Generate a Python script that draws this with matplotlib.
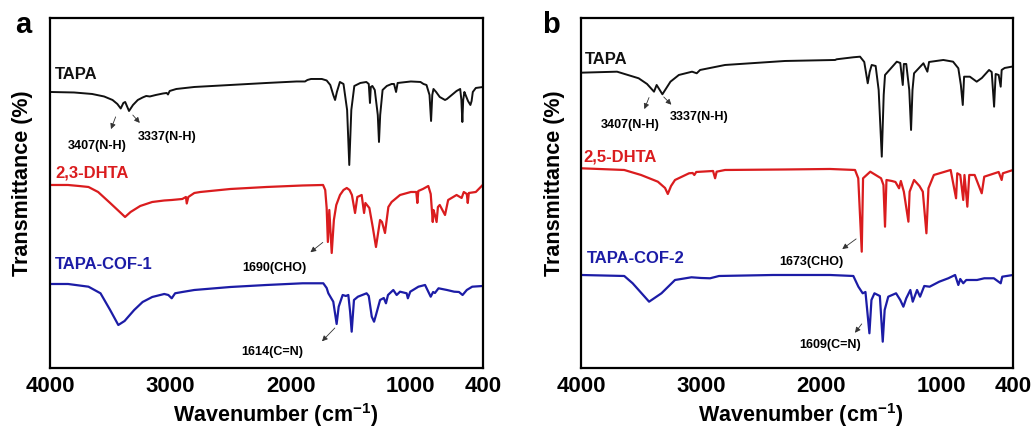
import matplotlib
matplotlib.use("Agg")
import matplotlib.pyplot as plt

plt.rcParams['font.family'] = ['Liberation Sans', 'DejaVu Sans']
plt.rcParams['font.weight'] = 'bold'
plt.rcParams['mathtext.fontset'] = 'custom'
plt.rcParams['mathtext.rm'] = 'Liberation Sans:bold'
plt.rcParams['mathtext.default'] = 'rm'

# ---- panel a: spectra (wavenumber, transmittance a.u.) ----
tapa_a_w = [4000, 3800, 3650, 3550, 3480, 3440, 3412, 3390, 3375, 3343, 3310, 3270, 3230, 3200, 3170,
            3120, 3060, 3030, 3019, 3005, 2950, 2800, 2500, 2200, 1950, 1880, 1860, 1830, 1740, 1700,
            1670, 1645, 1630, 1615, 1590, 1560, 1530, 1512, 1495, 1470, 1420, 1370, 1350, 1340, 1333,
            1320, 1300, 1275, 1265, 1255, 1235, 1200, 1160, 1140, 1123, 1110, 1000, 920, 895, 870,
            845, 832, 822, 812, 790, 760, 716, 700, 670, 620, 590, 580, 572, 565, 555, 545, 525, 505,
            495, 485, 460, 400]
tapa_a_t = [276, 275.5, 274, 271.5, 268, 264, 259.5, 265, 266, 257, 263, 268, 270.5, 272, 271.5,
            273, 274.5, 275, 273.5, 277, 279, 281, 283, 285, 286.5, 286.5, 288, 289, 289, 287.5,
            283, 273, 268, 276, 286, 284, 258, 203, 258, 282, 285, 286, 284, 265, 281,
            282, 278, 253, 226, 253, 278, 282, 284, 284, 276, 285, 286.5, 286, 284, 283,
            273, 247, 273, 279, 276, 271, 268, 269, 272, 277, 279, 268, 246, 268, 276, 273, 267, 263,
            267, 276, 280, 281]

dhta23_w = [4000, 3850, 3760, 3680, 3600, 3500, 3420, 3376, 3330, 3250, 3150, 3050, 2988, 2900, 2870,
            2863, 2850, 2800, 2750, 2500, 2200, 1900, 1730, 1712, 1700, 1690, 1678, 1658, 1640, 1620,
            1589, 1560, 1533, 1510, 1490, 1464, 1445, 1409, 1389, 1378, 1345, 1317, 1290, 1256, 1240,
            1215, 1187, 1160, 1090, 1000, 955, 946, 938, 900, 855, 835, 818, 812, 800, 786, 775, 760,
            716, 690, 620, 578, 560, 535, 527, 518, 460, 403]
dhta23_t = [183, 183, 182, 181, 176, 165, 156, 151, 156, 162, 166, 167.5, 168, 169, 171,
            164.5, 171, 175, 176, 179, 181, 182.5, 183, 178, 160, 126, 158, 115, 148, 163,
            173, 178, 180, 178, 173, 155, 171, 173, 155, 165, 160, 141, 121, 148, 146,
            135, 161, 166, 173, 176, 176, 165, 177, 179, 182, 174, 146, 158, 153, 146, 161, 163,
            153, 168, 173, 170, 176, 174, 165, 175, 176, 183]

cof1_w = [4000, 3850, 3680, 3580, 3500, 3432, 3380, 3300, 3230, 3150, 3050, 3016, 2988, 2960, 2900,
          2800, 2500, 2200, 1900, 1728, 1700, 1686, 1645, 1617, 1600, 1567, 1540, 1520, 1505, 1492,
          1473, 1440, 1368, 1350, 1325, 1306, 1290, 1256, 1225, 1207, 1190, 1146, 1118, 1090, 1035,
          1025, 1005, 937, 882, 862, 835, 815, 800, 770, 700, 640, 600, 570, 535, 490, 403]
cof1_t = [84, 84, 81.3, 74.7, 58, 43, 47, 58, 66, 71, 74, 73, 69.7, 74.7, 76,
          78, 81, 83, 84.7, 84.7, 80, 74.7, 66.3, 44, 61.3, 73, 72, 73, 56.3, 36.3,
          68, 71.3, 74.7, 72, 51.3, 46.3, 53, 68, 70, 64.7, 73, 78, 73, 76.3, 74.7,
          69.7, 76.3, 81.3, 83, 78, 71.3, 76, 75, 79.7, 78, 76.3, 76, 73, 78, 81.3, 82]

# ---- panel b ----
tapa_b_w = [4000, 3700, 3520, 3450, 3392, 3370, 3322, 3255, 3185, 3075, 3036, 3008, 2800, 2300, 1883,
            1870, 1731, 1675, 1640, 1611, 1595, 1578, 1545, 1520, 1494, 1478, 1467, 1369, 1340, 1319,
            1310, 1290, 1265, 1250, 1238, 1225, 1147, 1114, 1100, 981, 900, 856, 835, 819, 808, 760,
            703, 660, 600, 578, 558, 545, 520, 503, 495, 470, 411, 400]
tapa_b_t = [295.3, 296.3, 289.7, 284, 276.3, 283, 273.7, 286.3, 293, 296.3, 294.7, 298, 303, 307, 308,
            308.7, 310.7, 311.3, 306, 284.7, 296, 303, 302, 278, 211.3, 273, 293, 306.3, 305, 283,
            304, 304, 278, 238, 278, 294.7, 304.7, 296.3, 306, 308, 306.3, 299.7, 283, 263, 291.3, 291.3,
            286.3, 290, 298, 296, 261.3, 294, 293, 281.3, 298, 300, 301.3, 301.3]

dhta25_w = [4000, 3640, 3500, 3360, 3300, 3277, 3250, 3217, 3100, 3070, 3056, 3040, 2900, 2883, 2870,
            2800, 2300, 1925, 1717, 1690, 1661, 1650, 1590, 1500, 1480, 1467, 1455, 1410, 1380, 1350,
            1335, 1310, 1272, 1262, 1225, 1180, 1152, 1122, 1105, 1060, 920, 875, 865, 840, 815, 805,
            781, 765, 720, 661, 640, 520, 495, 485, 400]
dhta25_t = [199.7, 198, 193, 186.3, 180, 174, 182, 188, 194.7, 195, 193, 196, 197, 189.7, 196.3,
            198, 198.5, 199, 198, 189.7, 116.3, 189.7, 196.3, 189.7, 183, 141.3, 188, 187, 186, 179.7,
            187, 176.3, 146.3, 176.3, 188, 182, 176.3, 134.7, 179.7, 193, 198, 169.7, 194.7, 193, 168, 193,
            161.3, 193, 193, 174.7, 191.3, 196, 188, 194.7, 198]

cof2_w = [4000, 3640, 3570, 3433, 3330, 3217, 3080, 3000, 2925, 2850, 2400, 1925, 1731, 1689, 1653,
          1630, 1597, 1580, 1555, 1510, 1486, 1470, 1440, 1375, 1340, 1314, 1290, 1256, 1236, 1200,
          1175, 1140, 1095, 1015, 940, 883, 856, 840, 815, 790, 700, 640, 560, 503, 490, 400]
cof2_t = [93, 92, 84.7, 66.3, 74.7, 88, 90.7, 90, 89.7, 92, 93, 93, 92, 81.3, 74.7,
          76, 34.7, 68, 74.7, 72, 26.3, 58, 71.3, 74.7, 68, 61.3, 69.7, 78, 66.3, 78,
          71.3, 82, 81.3, 86.3, 89.7, 93, 83, 89, 84.7, 88, 88, 89.7, 89.7, 84.7, 91.3, 93]

xticks = [4000, 3000, 2000, 1000, 400]
black, red, blue = '#111111', '#da1c1e', '#1c1ca6'

fig = plt.figure(figsize=(10.35, 4.30), dpi=100)
axa = fig.add_axes([0.0483, 0.1442, 0.4184, 0.814])
axb = fig.add_axes([0.5614, 0.1442, 0.4174, 0.814])


def style(ax, xlab_x):
    ax.set_xlim(4000, 400)
    ax.set_ylim(0, 350)
    ax.set_xticks(xticks)
    ax.set_xticklabels([str(t) for t in xticks], fontsize=16, fontweight='bold')
    ax.tick_params(axis='x', length=0, pad=6)
    ax.set_yticks([])
    for s in ax.spines.values():
        s.set_linewidth(1.6)
    ax.text(xlab_x, -0.134, 'Wavenumber (cm$^{-1}$)', transform=ax.transAxes,
            ha='center', va='center', fontsize=15.5, fontweight='bold')
    ax.text(-0.0624, 0.529, 'Transmittance (%)', transform=ax.transAxes, rotation=90,
            ha='center', va='center', fontsize=15.5, fontweight='bold')


def arrow(ax, text, tip, tail, txt_xy, ha='center'):
    ax.annotate('', xy=tip, xytext=tail,
                arrowprops=dict(arrowstyle='-|>', color='#333333', lw=0.6, mutation_scale=8))
    ax.text(txt_xy[0], txt_xy[1], text, ha=ha, va='center', fontsize=9, fontweight='bold')


style(axa, 0.52)
axa.plot(tapa_a_w, tapa_a_t, color=black, lw=1.4)
axa.plot(dhta23_w, dhta23_t, color=red, lw=1.6)
axa.plot(cof1_w, cof1_t, color=blue, lw=1.6)
axa.text(3958, 293, 'TAPA', color=black, fontsize=12, fontweight='bold', va='center')
axa.text(3958, 195, '2,3-DHTA', color=red, fontsize=12, fontweight='bold', va='center')
axa.text(3958, 103, 'TAPA-COF-1', color=blue, fontsize=12, fontweight='bold', va='center')
arrow(axa, '3407(N-H)', (3501, 236.3), (3446, 253.7), (3609, 222.3))
arrow(axa, '3337(N-H)', (3238, 243), (3327, 255), (3271, 231.3), ha='left')
arrow(axa, '1690(CHO)', (1853, 114), (1714, 127.3), (2138, 99.7))
arrow(axa, '1614(C=N)', (1755, 24.7), (1616, 42), (2154, 15.7))

style(axb, 0.509)
axb.plot(tapa_b_w, tapa_b_t, color=black, lw=1.4)
axb.plot(dhta25_w, dhta25_t, color=red, lw=1.6)
axb.plot(cof2_w, cof2_t, color=blue, lw=1.6)
axb.text(3967, 308, 'TAPA', color=black, fontsize=12, fontweight='bold', va='center')
axb.text(3983, 211.3, '2,5-DHTA', color=red, fontsize=12, fontweight='bold', va='center')
axb.text(3950, 109, 'TAPA-COF-2', color=blue, fontsize=12, fontweight='bold', va='center')
arrow(axb, '3407(N-H)', (3481, 256.3), (3425, 273), (3592, 243))
arrow(axb, '3337(N-H)', (3231, 261.3), (3327, 273), (3258, 251.3), ha='left')
arrow(axb, '1673(CHO)', (1842, 117.3), (1689, 130.7), (2083, 106.3))
arrow(axb, '1609(C=N)', (1731, 33), (1647, 46.3), (1925, 23))

fig.text(0.0145, 0.9225, 'a', fontsize=21, fontweight='bold', va='baseline')
fig.text(0.5234, 0.9225, 'b', fontsize=21, fontweight='bold', va='baseline')

fig.savefig('out.png', dpi=100)
